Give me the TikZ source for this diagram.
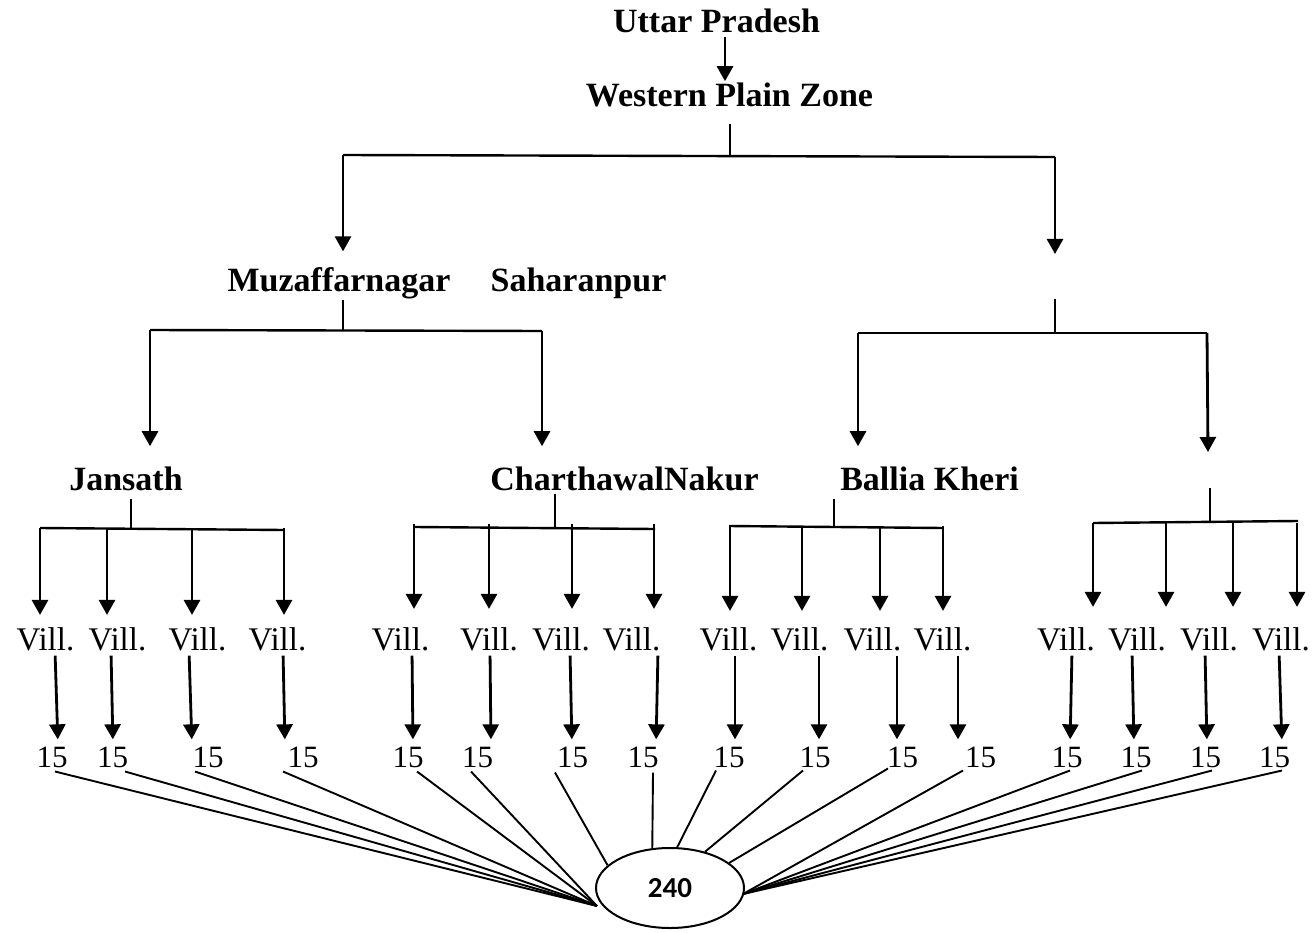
\documentclass[tikz,border=0pt]{standalone}
\usepackage{fontspec}
\setmainfont{Liberation Serif}
\newfontfamily\calib{Carlito}
\usetikzlibrary{arrows.meta,shapes.geometric}
\tikzset{
 arr/.style={line width=2.8pt, -{Triangle[width=16pt,length=15pt]}},
 ln/.style={line width=2.4pt},
 stub/.style={line width=1.7pt},
 fan/.style={line width=1.9pt},
 head/.style={inner sep=0pt, anchor=base, font=\fontsize{34}{40}\selectfont\bfseries},
 vill/.style={inner sep=0pt, anchor=base, font=\fontsize{33}{40}\selectfont},
 num/.style={inner sep=0pt, anchor=base, font=\fontsize{31}{37}\selectfont},
}
\begin{document}
\begin{tikzpicture}[x=1pt,y=-1pt]
\useasboundingbox (0,0) rectangle (1313,933);
% text nodes
\node[head] (up) at (716.5,33) {Uttar Pradesh};
\node[head] (wpz) at (729.5,107) {Western Plain Zone};
\node[head] (muz) at (339,291) {Muzaffarnagar};
\node[head] (sah) at (578.5,291) {Saharanpur};
\node[head] (jan) at (126,490) {Jansath};
\node[head] (cha) at (624.5,490) {CharthawalNakur};
\node[head] (bal) at (929.5,490) {Ballia Kheri};
\foreach \i/\x in {1/45.5,2/117.5,3/197.5,4/277.5,5/400.5,6/489,7/561,8/631.5,9/728.5,10/799.5,11/872.5,12/942.5,13/1066,14/1137,15/1209,16/1281}
  \node[vill] (v\i) at (\x,650) {Vill.};
\foreach \i/\x in {1/52,2/112.5,3/208,4/303,5/408,6/477.5,7/572.5,8/643,9/729,10/815,11/902.5,12/980.5,13/1067,14/1136,15/1205.5,16/1274.5}
  \node[num] (f\i) at (\x,767) {15};
\node[ellipse, draw, line width=2pt, minimum width=148pt, minimum height=80pt, inner sep=0pt,
      font=\calib\bfseries\fontsize{29}{34}\selectfont] (c) at (670,888) {240};
% level 0
\draw[arr, shorten <=3pt, shorten >=2pt] (up.south -| 725,0) -- (wpz.north -| 725,0);
% level 1
\coordinate (t1) at (730,155);
\coordinate (t1l) at (343,155);
\coordinate (t1r) at (1055,157);
\coordinate (d2) at (1055,254);
\draw[stub, shorten <=16pt] (wpz.south -| t1) -- (t1);
\draw[ln] (t1l) -- (t1r);
\draw[arr, shorten >=15.5pt] (t1l) -- (muz.north -| t1l);
\draw[arr] (t1r) -- (d2);
% level 2 left
\coordinate (m2) at (343,330);
\coordinate (m2l) at (150,330);
\coordinate (m2r) at (542,331);
\draw[stub, shorten <=1pt] (muz.south -| m2) -- (m2);
\draw[ln] (m2l) -- (m2r);
\draw[arr, shorten >=20pt] (m2l) -- (jan.north -| m2l);
\draw[arr, shorten >=20pt] (m2r) -- (cha.north -| m2r);
% level 2 right
\coordinate (d2s) at (1055,299);
\coordinate (r2) at (1055,333);
\coordinate (r2l) at (858,333);
\coordinate (r2r) at (1207,333);
\coordinate (b4) at (1208,452);
\draw[stub] (d2s) -- (r2);
\draw[ln] (r2l) -- (r2r);
\draw[arr, shorten >=20pt] (r2l) -- (bal.north -| r2l);
\draw[arr] (r2r) -- (b4);
% block Jansath
\coordinate (jb) at (131,529);
\coordinate (jbl) at (40,528);
\coordinate (jbr) at (284,530);
\draw[stub, shorten <=8pt] (jan.south -| jb) -- (jb);
\draw[ln] (jbl) -- (jbr);
\foreach \i/\x in {1/40,2/107,3/192,4/284}
  \draw[arr, shorten >=12pt] (jbl -| \x,0) -- (v\i.north -| \x,0);
% block Charthawal
\coordinate (cb) at (555,527);
\coordinate (cbl) at (415,527);
\coordinate (cbr) at (655,529);
\draw[stub, shorten <=3pt] (cha.south -| cb) -- (cb);
\draw[ln] (cbl) -- (cbr);
\foreach \i/\x in {5/414,6/489,7/572,8/654}
  \draw[arr, shorten <=-3pt, shorten >=18pt] (cbl -| \x,0) -- (v\i.north -| \x,0);
% block Ballia
\coordinate (bb) at (834,527);
\coordinate (bbl) at (729,526);
\coordinate (bbr) at (943,528);
\draw[stub, shorten <=8pt] (bal.south -| bb) -- (bb);
\draw[ln] (bbl) -- (bbr);
\foreach \i/\x in {9/730,10/802,11/880,12/943}
  \draw[arr, shorten >=16pt] (bbl -| \x,0) -- (v\i.north -| \x,0);
% block right
\coordinate (rbs) at (1210,488);
\coordinate (rb) at (1210,522);
\coordinate (rbl) at (1093,523);
\coordinate (rbr) at (1298,521);
\draw[stub] (rbs) -- (rb);
\draw[ln] (rbl) -- (rbr);
\foreach \i/\x in {13/1093,14/1166,15/1233,16/1297}
  \draw[arr, shorten >=20pt] (rbl -| \x,0) -- (v\i.north -| \x,0);
% villages to samples
\foreach \i/\xs/\xt in {1/55/58,2/111/113,3/189/192,4/283/285,5/412/413,6/490/491,7/570/572,8/658/656,9/735/735,10/819/819,11/897/897,12/958/958,13/1072/1070,14/1132/1134,15/1205/1207,16/1279/1282}
  \draw[arr, shorten <=5pt, shorten >=7pt] (v\i.south -| \xs,0) -- (f\i.north -| \xt,0);
% fan to total
\coordinate (cl) at (597,906);
\coordinate (cr) at (743,894);
\foreach \i/\dx in {1/3,2/12.5,3/-13,4/-20,5/9,6/-6.5}
  \draw[fan] ([xshift=\dx pt, yshift=-4pt]f\i.south) -- (cl);
\draw[fan] ([xshift=-17.5pt, yshift=-5pt]f7.south) -- (c.160);
\draw[fan] ([xshift=10pt, yshift=-5pt]f8.south) -- (c.114);
\draw[fan] ([xshift=-13pt, yshift=-3pt]f9.south) -- (c.80);
\draw[fan] ([xshift=-12pt, yshift=-3pt]f10.south) -- (c.46);
\draw[fan] ([xshift=-14.5pt, yshift=-1pt]f11.south) -- (c.23);
\foreach \i/\dx in {12/-17.5,13/3,14/6,15/6.5,16/7.5}
  \draw[fan] ([xshift=\dx pt, yshift=-3pt]f\i.south) -- (cr);
\end{tikzpicture}
\end{document}
